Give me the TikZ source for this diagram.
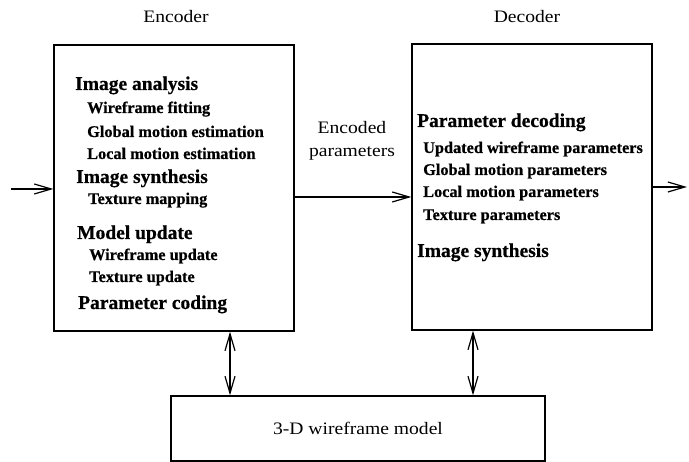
\documentclass[tikz,border=0pt]{standalone}
\usepackage{fontspec}
\setmainfont{Liberation Serif}
\newfontfamily\regf{Liberation Serif}[FakeStretch=1.12]
\newfontfamily\boldf{Liberation Serif Bold}[FakeBold=0.6]
\usetikzlibrary{arrows.meta}
\tikzset{
  box/.style={draw=black, line width=1.3pt, rectangle, inner sep=0pt},
  hdr/.style={anchor=base west, inner sep=0pt, font=\boldf\fontsize{19.5}{23}\selectfont},
  sub/.style={anchor=base west, inner sep=0pt, font=\boldf\fontsize{16.3}{20}\selectfont},
  plain/.style={inner sep=0pt, font=\regf\fontsize{17.5}{23}\selectfont},
  arr/.style={line width=1.2pt, -{Straight Barb[length=17pt,width=10pt,line width=1.2pt]}},
  darr/.style={line width=1.2pt, {Straight Barb[length=17pt,width=10pt,line width=1.2pt]}-{Straight Barb[length=17pt,width=10pt,line width=1.2pt]}}
}
\begin{document}
\begin{tikzpicture}[x=1pt,y=-1pt]
\useasboundingbox (0,0) rectangle (689,462);
% boxes
\node[box, minimum width=240pt, minimum height=286pt] (enc) at (174,188) {};
\node[box, minimum width=240pt, minimum height=286pt] (dec) at (532,187) {};
\node[box, minimum width=374pt, minimum height=65pt, plain] (mod) at (358,428.5) {3-D wireframe model};
% titles
\node[plain, anchor=base] (enctitle) at (176,23) {Encoder};
\node[plain, anchor=base] (dectitle) at (527,23) {Decoder};
\node[plain, align=center] (enclab) at (352,141) {Encoded\\parameters};
% encoder text
\node[hdr] (ia) at (75,90) {Image analysis};
\node[sub] (wf) at (87,113) {Wireframe fitting};
\node[sub] (gm) at (87,137) {Global motion estimation};
\node[sub] (lm) at (87,159) {Local motion estimation};
\node[hdr] (is) at (76,183) {Image synthesis};
\node[sub] (tm) at (88,204) {Texture mapping};
\node[hdr] (mu) at (77,239) {Model update};
\node[sub] (wu) at (89,260) {Wireframe update};
\node[sub] (tu) at (89,282) {Texture update};
\node[hdr] (pc) at (78,309) {Parameter coding};
% decoder text
\node[hdr] (pd) at (417,127) {Parameter decoding};
\node[sub] (uw) at (423,153) {Updated wireframe parameters};
\node[sub] (gp) at (423,175) {Global motion parameters};
\node[sub] (lp) at (423,197) {Local motion parameters};
\node[sub] (tp) at (423,220) {Texture parameters};
\node[hdr] (dis) at (417,257) {Image synthesis};
% connectors
\coordinate (inp) at (11,189);
\coordinate (outp) at (687,187);
\coordinate (encm) at (300,197);
\coordinate (encx) at (230,0);
\coordinate (decx) at (473,0);
\draw[arr] (inp) -- (inp -| enc.west);
\draw[arr] (encm -| enc.east) -- (encm -| dec.west);
\draw[arr] (outp -| dec.east) -- (outp);
\draw[darr] (encx |- enc.south) -- (encx |- mod.north);
\draw[darr] (decx |- dec.south) -- (decx |- mod.north);
\end{tikzpicture}
\end{document}
